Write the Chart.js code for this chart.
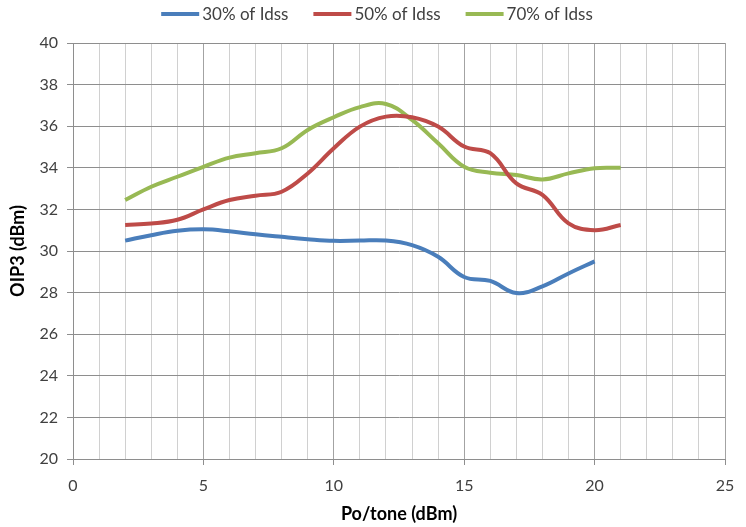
<!DOCTYPE html>
<html>
<head>
<meta charset="utf-8">
<script src="https://cdn.jsdelivr.net/npm/chart.js"></script>
<style>
  html, body { margin: 0; padding: 0; background: #fff; }
  #wrap { width: 746px; height: 527px; }
</style>
</head>
<body>
<div id="wrap"><canvas id="oip3" width="746" height="527"></canvas></div>
<script>
// Po/tone (dBm) sweep points
const powerLevels = [2, 3, 4, 5, 6, 7, 8, 9, 10, 11, 12, 13, 14, 15, 16, 17, 18, 19, 20, 21];

// OIP3 (dBm) per bias point
const oip3At30 = [30.5, 30.76, 30.97, 31.04, 30.95, 30.8, 30.68, 30.57, 30.49, 30.5, 30.5, 30.28, 29.72, 28.75, 28.56, 27.98, 28.3, 28.92, 29.5];
const oip3At50 = [31.25, 31.32, 31.5, 32.0, 32.45, 32.66, 32.85, 33.73, 34.94, 35.98, 36.46, 36.43, 35.98, 35.02, 34.7, 33.25, 32.7, 31.33, 31.0, 31.25];
const oip3At70 = [32.45, 33.09, 33.57, 34.05, 34.49, 34.7, 34.94, 35.82, 36.43, 36.92, 37.07, 36.3, 35.18, 34.05, 33.76, 33.65, 33.44, 33.73, 33.98, 34.0];

const seriesNames = ['30% of Idss', '50% of Idss', '70% of Idss'];
const seriesColors = ['#4a7ebb', '#be4b48', '#98b954'];

function toPoints(values) {
  return values.map((v, i) => ({ x: powerLevels[i], y: v }));
}

const allSeries = [oip3At30, oip3At50, oip3At70];

Chart.defaults.font.family = 'Lato, "Open Sans", sans-serif';
Chart.defaults.font.size = 16;
Chart.defaults.color = '#404040';

// legend drawn by hand: excel puts the text right next to the swatch
const topLegend = {
  id: 'topLegend',
  afterDraw(chart) {
    const ctx = chart.ctx;
    const lineLen = 38, gap = 3, itemGap = 25, cy = 14;
    ctx.save();
    ctx.font = '17px Lato, "Open Sans", sans-serif';
    ctx.textBaseline = 'middle';
    const items = chart.data.datasets.map(ds => ({
      text: ds.label, color: ds.borderColor, w: ctx.measureText(ds.label).width
    }));
    const total = items.reduce((s, it) => s + lineLen + gap + it.w, 0) + itemGap * (items.length - 1);
    let x = 377 - total / 2;
    items.forEach(it => {
      ctx.strokeStyle = it.color;
      ctx.lineWidth = 4;
      ctx.beginPath();
      ctx.moveTo(x, cy);
      ctx.lineTo(x + lineLen, cy);
      ctx.stroke();
      x += lineLen + gap;
      ctx.fillStyle = '#404040';
      ctx.fillText(it.text, x, cy + 1);
      x += it.w + itemGap;
    });
    ctx.restore();
  }
};

new Chart(document.getElementById('oip3').getContext('2d'), {
  type: 'line',
  data: {
    datasets: allSeries.map((vals, i) => ({
      label: seriesNames[i],
      data: toPoints(vals),
      borderColor: seriesColors[i],
      backgroundColor: seriesColors[i],
      borderWidth: 4,
      pointRadius: 0,
      tension: 0.4,
      fill: false
    }))
  },
  options: {
    responsive: false,
    animation: false,
    layout: { padding: { left: 0, right: 21, top: 43, bottom: 0 } },
    plugins: {
      legend: { display: false },
      tooltip: { enabled: false }
    },
    scales: {
      x: {
        type: 'linear',
        min: 0,
        max: 25,
        afterFit: s => { s.height = 68; },
        ticks: {
          stepSize: 1,
          autoSkip: false,
          maxRotation: 0,
          padding: 11,
          callback: v => (v % 5 === 0 ? v : '')
        },
        grid: {
          color: c => (c.tick && c.tick.value % 5 === 0 ? '#a3a3a3' : '#d0d0d0'),
          tickColor: c => (c.tick && c.tick.value % 5 === 0 ? '#8e8e8e' : 'rgba(0,0,0,0)'),
          tickLength: 6,
          lineWidth: 1
        },
        border: { color: '#8e8e8e' },
        title: {
          display: true,
          text: 'Po/tone (dBm)',
          color: '#000',
          font: { size: 18, weight: 'bold' },
          padding: { top: 2, bottom: 2 }
        }
      },
      y: {
        min: 20,
        max: 40,
        afterFit: s => { s.width = 73; },
        ticks: { stepSize: 2, padding: 9 },
        grid: { color: '#8e8e8e', tickColor: '#8e8e8e', tickLength: 6 },
        border: { color: '#8e8e8e' },
        title: {
          display: true,
          text: 'OIP3 (dBm)',
          color: '#000',
          font: { size: 18, weight: 'bold' },
          padding: { top: 7, bottom: 4 }
        }
      }
    }
  },
  plugins: [topLegend]
});
</script>
</body>
</html>
